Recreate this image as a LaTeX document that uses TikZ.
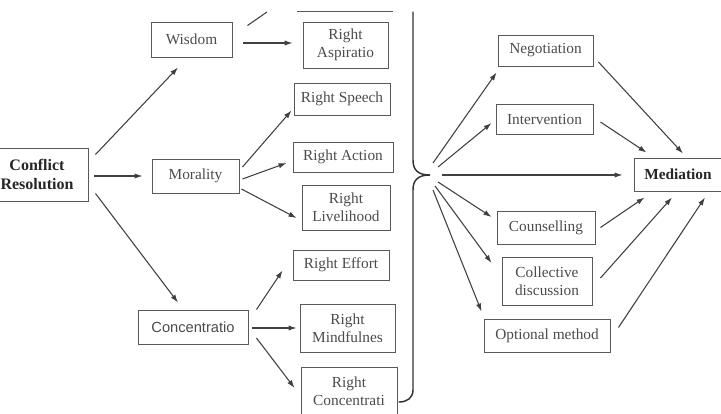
\documentclass[tikz,border=0pt]{standalone}
\usepackage{fontspec}
\setmainfont{Liberation Serif}
\newfontfamily\sansfont{Liberation Sans}
\usetikzlibrary{arrows.meta, positioning, calc}
\tikzset{
    pathBox/.style={rectangle, draw=black!65, line width=0.7pt, fill=white, inner sep=0pt, align=center, text=black!70, font=\fontsize{11.5}{13.5}\selectfont},
    mainBox/.style={pathBox, text=black!85, font=\fontsize{11.5}{13.5}\selectfont\bfseries},
    flowArrow/.style={-{Latex[length=6pt, width=4pt]}, draw=black!75, line width=0.8pt},
    braceLine/.style={draw=black!80, line width=1.1pt, line cap=round}
}

\begin{document}
\begin{tikzpicture}[x=0.75pt, y=-0.75pt]

        % Frame
        \useasboundingbox (0,0) rectangle (721,414);
        \clip (0,0) rectangle (721,414);

        % --- Left part: the three trainings ---
        \node[mainBox, minimum width=76.5pt, minimum height=39.75pt, font=\fontsize{12}{14}\selectfont\bfseries] (conflict) at (37,174.5) {Conflict\\Resolution};
        \node[pathBox, minimum width=60.75pt, minimum height=26.25pt] (wisdom) at (191.5,39.5) {Wisdom};
        \node[pathBox, minimum width=65.25pt, minimum height=25.5pt] (morality) at (195.5,176) {Morality};
        \node[pathBox, minimum width=82.5pt, minimum height=25.5pt, font=\fontsize{11}{13.5}\sansfont] (concentratio) at (193,327) {Concentratio};

        % Eightfold path
        \node[pathBox, minimum width=63.75pt, minimum height=34.5pt] (aspir) at (345.5,45) {Right\\Aspiratio};
        \node[pathBox, minimum width=72pt, minimum height=24pt] (speech) at (342,99) {Right Speech};
        \node[pathBox, minimum width=75pt, minimum height=22.5pt] (action) at (343,157) {Right Action};
        \node[pathBox, minimum width=66pt, minimum height=33.75pt] (livelihood) at (346,207.5) {Right\\Livelihood};
        \node[pathBox, minimum width=72pt, minimum height=22.5pt] (effort) at (341,265) {Right Effort};
        \node[pathBox, minimum width=71.25pt, minimum height=36pt] (mindful) at (347.5,328) {Right\\Mindfulnes};
        \node[pathBox, minimum width=72pt, minimum height=36pt] (rconc) at (349,391) {Right\\Concentrati};

        % Cut-off pieces at the top
        \coordinate (wisdomUp) at (267,12);
        \draw[draw=black!75, line width=0.8pt] ($(wisdom.north east)+(15,4)$) -- (wisdomUp);
        \draw[draw=black!65, line width=0.7pt] (297,11) -- (393,11);

        % Arrows
        \draw[flowArrow] ($(conflict.north east)+(7,7)$) -- ($(wisdom.south)+(-13.5,10)$);
        \draw[flowArrow] ($(conflict.east)+(6,1.5)$) -- ($(morality.west)+(-9,0)$);
        \draw[flowArrow] ($(conflict.south east)+(7,-8)$) -- ($(concentratio.north)+(-15,-7)$);
        \draw[flowArrow] ($(wisdom.east)+(11,3.5)$) -- ($(aspir.west)+(-10,-2)$);
        \draw[flowArrow] ($(morality.east)+(3,-9)$) -- ($(speech.south west)+(-2,-5)$);
        \draw[flowArrow] ($(morality.east)+(3,3)$) -- ($(action.west)+(-6,6)$);
        \draw[flowArrow] ($(morality.east)+(2,13)$) -- ($(livelihood.west)+(-5,10.5)$);
        \draw[flowArrow] ($(concentratio.north east)+(8,0)$) -- ($(effort.south west)+(-10,-10)$);
        \draw[flowArrow] ($(concentratio.east)+(4,1)$) -- ($(mindful.west)+(-3,0)$);
        \draw[flowArrow] ($(concentratio.east)+(8,11)$) -- ($(rconc.west)+(-6,-3)$);

        % --- Brace ---
        \coordinate (fork) at (430,175);
        \draw[braceLine] (413,12) -- (413,160) .. controls (413,170) and (418,175) .. (fork)
            .. controls (418,175) and (413,180) .. (413,190) -- (413,390)
            .. controls (413,398) and (407,402) .. (399,402);

        % --- Right part: methods ---
        \node[pathBox, minimum width=71.25pt, minimum height=23.25pt] (negotiation) at (545.5,50.5) {Negotiation};
        \node[pathBox, minimum width=72.75pt, minimum height=22.5pt] (intervention) at (544.5,119) {Intervention};
        \node[mainBox, minimum width=66pt, minimum height=24.75pt] (mediation) at (678,174.5) {Mediation};
        \node[pathBox, minimum width=73.5pt, minimum height=24.75pt] (counselling) at (546,227.5) {Counselling};
        \node[pathBox, minimum width=67.5pt, minimum height=36pt] (collective) at (547,281) {Collective\\discussion};
        \node[pathBox, minimum width=94.5pt, minimum height=24.75pt] (optional) at (547,335.5) {Optional method};

        \draw[flowArrow] ($(fork)+(3,-12)$) -- ($(negotiation.south west)+(-1,6)$);
        \draw[flowArrow] ($(fork)+(8,-8)$) -- ($(intervention.west)+(-4,4)$);
        \draw[flowArrow] ($(fork)+(12,0)$) -- ($(mediation.west)+(-11,0.5)$);
        \draw[flowArrow] ($(fork)+(8,7)$) -- ($(counselling.west)+(-5,-10.5)$);
        \draw[flowArrow] ($(fork)+(5,11)$) -- ($(collective.west)+(-10,-18)$);
        \draw[flowArrow] ($(fork)+(3,15)$) -- ($(optional.north west)+(-2,-7)$);

        \draw[flowArrow] ($(negotiation.east)+(5,11.5)$) -- ($(mediation.north)+(5,-4)$);
        \draw[flowArrow] ($(intervention.east)+(7,3)$) -- ($(mediation.north west)+(13,-5)$);
        \draw[flowArrow] ($(counselling.east)+(5,0)$) -- ($(mediation.south west)+(11,6)$);
        \draw[flowArrow] ($(collective.east)+(8,-3)$) -- ($(mediation.south)+(-6,6)$);
        \draw[flowArrow] ($(optional.east)+(8,-8)$) -- ($(mediation.south)+(27,6)$);

\end{tikzpicture}
\end{document}
